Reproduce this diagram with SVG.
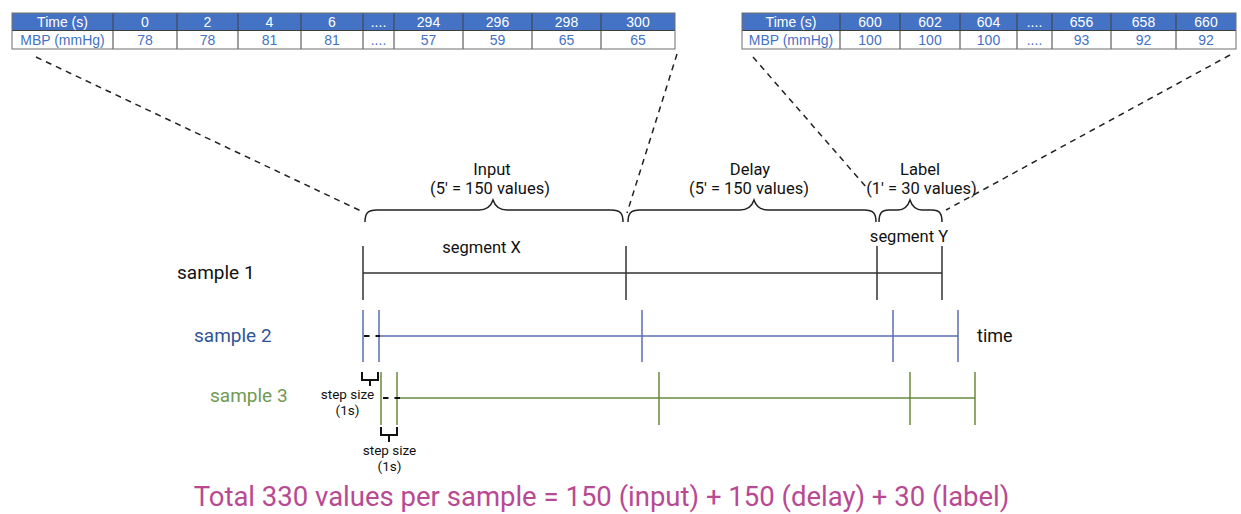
<svg xmlns="http://www.w3.org/2000/svg" width="1241" height="514" viewBox="0 0 1241 514">
<style>
.hdr{fill:#4472C4}
.row{fill:#ffffff}
.grid{stroke:#3f3f3f;stroke-width:1;fill:none}
.outer{stroke:#6f6f6f;stroke-width:1;fill:none}
.th{fill:#ffffff;font-family:"Liberation Sans",Arial,sans-serif;font-size:14px;text-anchor:middle}
.td{fill:#4472C4;font-family:"Liberation Sans",Arial,sans-serif;font-size:14px;text-anchor:middle}
.dash{stroke:#222;stroke-width:1.5;stroke-dasharray:6 5;fill:none}
.brace{stroke:#222;stroke-width:1.5;fill:none}
.lbl{font-family:Roboto,"Noto Sans",sans-serif;font-size:16.5px;fill:#111;text-anchor:middle}
.small{font-family:Roboto,"Noto Sans",sans-serif;font-size:13.5px;fill:#111;text-anchor:middle}
.samp{font-family:Roboto,"Noto Sans",sans-serif;font-size:19px}
.s1{stroke:#333;stroke-width:1.5;fill:none}
.s2{stroke:#5b6db3;stroke-width:1.5;fill:none}
.s3{stroke:#6b8b3a;stroke-width:1.5;fill:none}
.blk{stroke:#111;stroke-width:2;fill:none}
.total{font-family:Roboto,"Noto Sans",sans-serif;font-size:27.5px;fill:#b84a93;text-anchor:middle}
</style>

<g id="table-left">
  <rect class="hdr" x="12" y="13" width="663" height="17"/>
  <rect class="row" x="12" y="30" width="663" height="19"/>
  <path class="grid" d="M12,30.5H675 M113,13V49 M177,13V49 M238,13V49 M301,13V49 M363,13V49 M394,13V49 M463,13V49 M532,13V49 M601,13V49"/>
  <rect class="outer" x="12" y="13" width="663" height="36"/>
  <text class="th" x="62.5" y="26.5">Time (s)</text>
  <text class="th" x="145" y="26.5">0</text>
  <text class="th" x="207.5" y="26.5">2</text>
  <text class="th" x="269.5" y="26.5">4</text>
  <text class="th" x="332" y="26.5">6</text>
  <text class="th" x="378.5" y="26.5">....</text>
  <text class="th" x="428.5" y="26.5">294</text>
  <text class="th" x="497.5" y="26.5">296</text>
  <text class="th" x="566.5" y="26.5">298</text>
  <text class="th" x="638" y="26.5">300</text>
  <text class="td" x="62.5" y="44.5">MBP (mmHg)</text>
  <text class="td" x="145" y="44.5">78</text>
  <text class="td" x="207.5" y="44.5">78</text>
  <text class="td" x="269.5" y="44.5">81</text>
  <text class="td" x="332" y="44.5">81</text>
  <text class="td" x="378.5" y="44.5">....</text>
  <text class="td" x="428.5" y="44.5">57</text>
  <text class="td" x="497.5" y="44.5">59</text>
  <text class="td" x="566.5" y="44.5">65</text>
  <text class="td" x="638" y="44.5">65</text>
</g>

<g id="table-right">
  <rect class="hdr" x="742" y="13" width="494" height="17"/>
  <rect class="row" x="742" y="30" width="494" height="19"/>
  <path class="grid" d="M742,30.5H1236 M840,13V49 M900,13V49 M960,13V49 M1017,13V49 M1052,13V49 M1111,13V49 M1176,13V49"/>
  <rect class="outer" x="742" y="13" width="494" height="36"/>
  <text class="th" x="791" y="26.5">Time (s)</text>
  <text class="th" x="870" y="26.5">600</text>
  <text class="th" x="930" y="26.5">602</text>
  <text class="th" x="988.5" y="26.5">604</text>
  <text class="th" x="1034.5" y="26.5">....</text>
  <text class="th" x="1081.5" y="26.5">656</text>
  <text class="th" x="1143.5" y="26.5">658</text>
  <text class="th" x="1206" y="26.5">660</text>
  <text class="td" x="791" y="44.5">MBP (mmHg)</text>
  <text class="td" x="870" y="44.5">100</text>
  <text class="td" x="930" y="44.5">100</text>
  <text class="td" x="988.5" y="44.5">100</text>
  <text class="td" x="1034.5" y="44.5">....</text>
  <text class="td" x="1081.5" y="44.5">93</text>
  <text class="td" x="1143.5" y="44.5">92</text>
  <text class="td" x="1206" y="44.5">92</text>
</g>

<g id="connectors">
  <line class="dash" x1="36" y1="57" x2="361" y2="211"/>
  <line class="dash" x1="677" y1="54" x2="627" y2="213"/>
  <line class="dash" x1="753" y1="57" x2="867" y2="188"/>
  <line class="dash" x1="1230" y1="55" x2="946" y2="210"/>
</g>

<g id="brace-input">
  <path class="brace" d="M365,222 C365,214 367,210 377,210 L479,210 C487,210 491,206 493,200 C495,206 499,210 507,210 L611,210 C621,210 623,214 623,222"/>
  <text class="lbl" x="492" y="175">Input</text>
  <text class="lbl" x="490" y="194">(5' = 150 values)</text>
</g>

<g id="brace-delay">
  <path class="brace" d="M628,222 C628,214 630,210 640,210 L740,210 C748,210 752,206 754,200 C756,206 760,210 768,210 L864,210 C874,210 876,214 876,222"/>
  <text class="lbl" x="750" y="175">Delay</text>
  <text class="lbl" x="749" y="194">(5' = 150 values)</text>
</g>

<g id="brace-label">
  <path class="brace" d="M879,222 C879,214 881,210 889,210 L898,210 C905,210 908,206 910,200 C912,206 915,210 922,210 L932,210 C940,210 942,214 942,222"/>
  <text class="lbl" x="920" y="175">Label</text>
  <text class="lbl" x="921.5" y="194">(1' = 30 values)</text>
</g>

<g id="sample1">
  <text class="samp" x="177" y="279" fill="#111">sample 1</text>
  <path class="s1" d="M363,273H942 M363,246V300 M626,246V300 M877,246V300 M942,246V300"/>
  <text class="lbl" x="481.5" y="253">segment X</text>
  <text class="lbl" x="909" y="242">segment Y</text>
</g>

<g id="sample2">
  <text class="samp" x="194" y="342" fill="#2f5597">sample 2</text>
  <path class="s2" d="M379,336H958 M363,310V362 M379,310V362 M642,310V362 M893,310V362 M958,310V362"/>
  <path class="blk" d="M364,336H369.5 M375.5,336H380"/>
  <text class="samp" x="977" y="342" fill="#111" style="font-size:18px">time</text>
</g>

<g id="sample3">
  <text class="samp" x="210" y="402" fill="#6f9a52">sample 3</text>
  <path class="s3" d="M397,398H975 M381,372V425 M397,372V425 M659,372V425 M910,372V425 M975,372V425"/>
  <path class="blk" d="M383,398H388.5 M394.5,398H400"/>
</g>

<g id="step1">
  <path class="blk" d="M362,372V380H378V372 M370,380V386"/>
  <text class="small" x="347.5" y="399">step size</text>
  <text class="small" x="347.5" y="415">(1s)</text>
</g>

<g id="step2">
  <path class="blk" d="M381,427V435H397V427 M389,435V442"/>
  <text class="small" x="389.5" y="455">step size</text>
  <text class="small" x="389.5" y="471">(1s)</text>
</g>

<g id="total">
  <text class="total" x="601.5" y="506">Total 330 values per sample = 150 (input) + 150 (delay) + 30 (label)</text>
</g>
</svg>
